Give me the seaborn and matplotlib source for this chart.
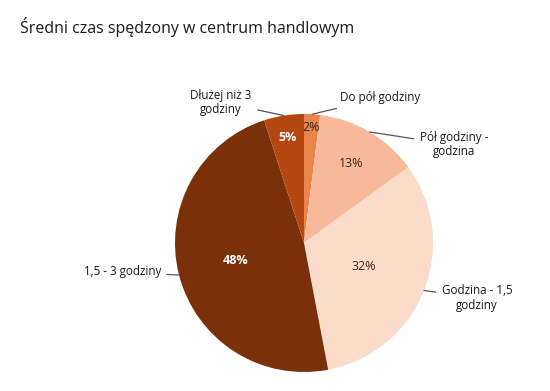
import numpy as np
import matplotlib
matplotlib.use("Agg")
import matplotlib.pyplot as plt
import seaborn as sns

categories = ['Do pół godziny', 'Pół godziny -\ngodzina', 'Godzina - 1,5\ngodziny',
              '1,5 - 3 godziny', 'Dłużej niż 3\ngodziny']
shares = [2, 13, 32, 48, 5]
slice_colors = ['#E8844C', '#F7B999', '#FBDCCB', '#7A3008', '#B4470F']
pct_colors = ['#3b2718', '#3b2718', '#3b2718', 'white', 'white']
pct_weights = ['normal', 'normal', 'normal', 'bold', 'bold']
pct_dist = [0.9, 0.72, 0.5, 0.55, 0.83]

# label anchor (pixel coords, y from top) and alignment
label_pos = [(340, 98), (454, 145), (477, 298), (161, 272), (221, 102)]
label_ha = ['left', 'center', 'center', 'right', 'center']

sns.set_theme(style='white')
plt.rcParams['font.family'] = ['Open Sans', 'DejaVu Sans']

W, H = 550, 391
fig = plt.figure(figsize=(W / 100, H / 100), dpi=100)
ax = fig.add_axes([0, 0, 1, 1])

cx, cy, r = 304, H - 243, 129
palette = sns.color_palette(slice_colors)
wedges, _ = ax.pie(shares, colors=palette, startangle=90, counterclock=False,
                   center=(cx, cy), radius=r, wedgeprops={'linewidth': 0})
ax.set_xlim(0, W)
ax.set_ylim(0, H)
ax.set_aspect('equal')
ax.axis('off')

fig.text(20 / W, 1 - 27 / H, 'Średni czas spędzony w centrum handlowym',
         fontsize=11.5, color='#1a1a1a', va='center', ha='left', fontweight='medium')

total = sum(shares)
start = 0.0
for i, s in enumerate(shares):
    mid = (start + s / 2) / total * 2 * np.pi
    start += s
    dx, dy = np.sin(mid), np.cos(mid)
    ax.text(cx + dx * r * pct_dist[i], cy + dy * r * pct_dist[i], f'{s}%',
            ha='center', va='center', fontsize=9, color=pct_colors[i],
            fontweight=pct_weights[i])
    lx, ly = label_pos[i]
    ax.annotate(categories[i], xy=(cx + dx * r, cy + dy * r), xytext=(lx, H - ly),
                ha=label_ha[i], va='center', fontsize=8.4, color='#1a1a1a',
                multialignment='center', linespacing=1.1,
                arrowprops=dict(arrowstyle='-', color='#555555', lw=0.9,
                                shrinkA=2, shrinkB=0))

fig.savefig('out.png', dpi=100, facecolor='white')
